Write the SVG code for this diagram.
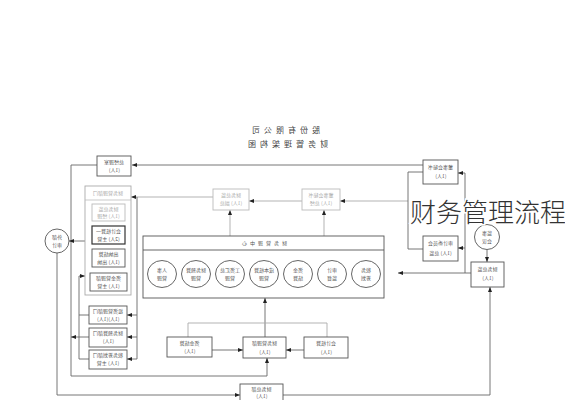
<svg xmlns="http://www.w3.org/2000/svg" width="565" height="400" viewBox="0 0 565 400">
<style>
.bx{fill:#fff;stroke:#555;stroke-width:0.9}
.bd{fill:#fff;stroke:#333;stroke-width:1.2}
.gb{fill:#fff;stroke:#bbb;stroke-width:0.9}
.el{fill:#fff;stroke:#555;stroke-width:0.9}
.ln{fill:none;stroke:#666;stroke-width:0.9}
.lg{fill:none;stroke:#aaa;stroke-width:0.9}
.ar{marker-end:url(#ah)}
text{font-family:"Noto Sans CJK SC","Noto Sans",sans-serif;text-anchor:middle}
.m{transform-box:fill-box;transform-origin:50% 50%;transform:scaleX(-1)}
.t{font-size:5px;fill:#555}
.tg{font-size:5px;fill:#aaa}
.ti{font-size:8px;fill:#444;letter-spacing:4px}
.big{font-size:26px;font-weight:300;fill:#333;text-anchor:start;stroke:#fff;stroke-width:3;paint-order:stroke}
</style>
<defs>
<marker id="ah" markerUnits="userSpaceOnUse" markerWidth="5" markerHeight="4" refX="5" refY="2" orient="auto">
<path d="M0,0 L5,2 L0,4 Z" fill="#222"/>
</marker>
</defs>
<rect width="565" height="400" fill="#fff"/>

<g id="title">
<text class="ti m" x="284" y="133">股份有限公司</text>
<text class="ti m" x="286" y="147">财务管理架构图</text>
</g>

<g id="connectors">
<polyline class="ln ar" points="97,165 71,165 71,376 267,376 267,358"/>
<polyline class="ln ar" points="423,165 132,165"/>
<polyline class="ln ar" points="57,253 57,395 240,395"/>
<polyline class="ln ar" points="283,395 490,395 490,287"/>
<polyline class="ln ar" points="85,241 69,241"/>
<polyline class="lg ar" points="213,197 131,197"/>
<polyline class="ln" points="137,197 137,359"/>
<polyline class="ln ar" points="137,315 127,315"/>
<polyline class="ln ar" points="137,337 127,337"/>
<polyline class="ln ar" points="137,359 127,359"/>
<polyline class="ln" points="89,315 79,315 79,359 89,359"/>
<polyline class="ln" points="79,337 89,337"/>
<polyline class="ln ar" points="79,315 79,276 85,276"/>
<polyline class="ln ar" points="79,337 71,337"/>
<polyline class="lg ar" points="302,201 249,201"/>
<polyline class="lg ar" points="408,201 340,201"/>
<polyline class="lg ar" points="230,236 230,210"/>
<polyline class="lg ar" points="324,236 324,210"/>
<polyline class="ln ar" points="265,337 265,298"/>
<polyline class="lg" points="188,337 188,323 327,323 327,337"/>
<polyline class="ln ar" points="212,350 243,350"/>
<polyline class="ln ar" points="304,350 286,350"/>
<polyline class="ln" points="423,172 408,172 408,249 423,249"/>
<polyline class="ln ar" points="471,273 398,273"/>
<polyline class="ln" points="465,273 465,173"/>
<polyline class="ln ar" points="465,173 458,173"/>
<polyline class="ln ar" points="465,248 458,248"/>
<polyline class="ln ar" points="487,250 487,262"/>
</g>

<g id="n-top-left">
<rect class="bx" x="97" y="156" width="34" height="20"/>
<text class="t m" x="114" y="164">总经理室</text>
<text class="t m" x="114" y="172">(1人)</text>
</g>

<g id="n-left-group">
<rect x="85" y="186" width="46" height="109" fill="none" stroke="#aaa" stroke-width="0.9"/>
<line x1="85" y1="200" x2="131" y2="200" stroke="#bbb" stroke-width="0.8"/>
<text class="tg m" x="108" y="195">财务管理部门</text>
</g>
<g id="n-left-1">
<rect class="gb" x="92" y="204" width="33" height="17"/>
<text class="tg m" x="108.5" y="211">财务总监</text>
<text class="tg m" x="108.5" y="218">(1人) 经理</text>
</g>
<g id="n-left-2">
<rect class="bd" x="92" y="226" width="33" height="18"/>
<text class="t m" x="108.5" y="233">会计核算一</text>
<text class="t m" x="108.5" y="241">(2人) 主管</text>
</g>
<g id="n-left-3">
<rect class="bx" x="92" y="249" width="33" height="18"/>
<text class="t m" x="108.5" y="256">出纳结算</text>
<text class="t m" x="108.5" y="264">(1人) 出纳</text>
</g>
<g id="n-left-4">
<rect class="bx" x="90" y="273" width="37" height="18"/>
<text class="t m" x="108.5" y="280">资金管理部</text>
<text class="t m" x="108.5" y="288">(1人) 主管</text>
</g>
<g id="n-left-5">
<rect class="bx" x="89" y="306" width="38" height="18"/>
<text class="t m" x="108" y="313">投资管理部门</text>
<text class="t m" x="108" y="321">(1人)(1人)</text>
</g>
<g id="n-left-6">
<rect class="bx" x="89" y="328" width="38" height="19"/>
<text class="t m" x="108" y="335">财务预算部门</text>
<text class="t m" x="108" y="343">(1人)</text>
</g>
<g id="n-left-7">
<rect class="bx" x="89" y="350" width="38" height="19"/>
<text class="t m" x="108" y="357">税务筹划部门</text>
<text class="t m" x="108" y="365">(1人) 主管</text>
</g>

<g id="n-left-circle">
<circle class="el" cx="57" cy="241" r="12"/>
<text class="t m" x="57" y="239">外部</text>
<text class="t m" x="57" y="247">审计</text>
</g>

<g id="n-gray-a">
<rect class="gb" x="213" y="189" width="36" height="21"/>
<text class="tg m" x="231" y="197">财务总监</text>
<text class="tg m" x="231" y="205">(1人) 副总</text>
</g>
<g id="n-gray-b">
<rect class="gb" x="302" y="189" width="38" height="21"/>
<text class="tg m" x="321" y="197">董事会秘书</text>
<text class="tg m" x="321" y="205">(1人) 总经</text>
</g>

<g id="n-main">
<rect class="bx" x="143" y="236" width="241" height="62"/>
<line x1="143" y1="250" x2="384" y2="250" stroke="#555" stroke-width="0.9"/>
<text class="t m" x="263" y="245" style="letter-spacing:3px">财务管理中心</text>
</g>
<g id="e1"><ellipse class="el" cx="162" cy="274" rx="14.5" ry="13.5"/><text class="t m" x="162" y="272">人事</text><text class="t m" x="162" y="280">管理</text></g>
<g id="e2"><ellipse class="el" cx="196" cy="274" rx="14.5" ry="13.5"/><text class="t m" x="196" y="272">财务预算</text><text class="t m" x="196" y="280">管理</text></g>
<g id="e3"><ellipse class="el" cx="230" cy="274" rx="14.5" ry="13.5"/><text class="t m" x="230" y="272">工资汇总</text><text class="t m" x="230" y="280">管理</text></g>
<g id="e4"><ellipse class="el" cx="264" cy="274" rx="14.5" ry="13.5"/><text class="t m" x="264" y="272">成本核算</text><text class="t m" x="264" y="280">管理</text></g>
<g id="e5"><ellipse class="el" cx="298" cy="274" rx="14.5" ry="13.5"/><text class="t m" x="298" y="272">资金</text><text class="t m" x="298" y="280">结算</text></g>
<g id="e6"><ellipse class="el" cx="332" cy="274" rx="14.5" ry="13.5"/><text class="t m" x="332" y="272">审计</text><text class="t m" x="332" y="280">监督</text></g>
<g id="e7"><ellipse class="el" cx="366" cy="274" rx="14.5" ry="13.5"/><text class="t m" x="366" y="272">税务</text><text class="t m" x="366" y="280">筹划</text></g>

<g id="n-bottom-left">
<rect class="bx" x="167" y="337" width="45" height="20"/>
<text class="t m" x="189.5" y="345">资金结算</text>
<text class="t m" x="189.5" y="353">(1人)</text>
</g>
<g id="n-bottom-center">
<rect class="bx" x="243" y="337" width="43" height="21"/>
<text class="t m" x="264.5" y="345">财务管理部</text>
<text class="t m" x="264.5" y="354">(1人)</text>
</g>
<g id="n-bottom-right">
<rect class="bx" x="304" y="337" width="44" height="21"/>
<text class="t m" x="326" y="345">会计核算</text>
<text class="t m" x="326" y="354">(1人)</text>
</g>
<g id="n-bottom">
<rect class="bx" x="240" y="384" width="43" height="20"/>
<text class="t m" x="261.5" y="391">财务总部</text>
<text class="t m" x="261.5" y="397.5">(1人)</text>
</g>

<g id="n-top-right">
<rect class="bx" x="423" y="160" width="35" height="24"/>
<text class="t m" x="440.5" y="169">董事会秘书</text>
<text class="t m" x="440.5" y="178">(1人)</text>
</g>
<g id="n-mid-right">
<rect class="bx" x="423" y="236" width="35" height="25"/>
<text class="t m" x="440.5" y="245">审计委员会</text>
<text class="t m" x="440.5" y="255">(1人) 总监</text>
</g>
<g id="n-right-circle">
<circle class="el" cx="487" cy="237" r="12.5"/>
<text class="t m" x="487" y="235">监事</text>
<text class="t m" x="487" y="243">会议</text>
</g>
<g id="n-right">
<rect class="bx" x="471" y="262" width="33" height="25"/>
<text class="t m" x="487.5" y="271">财务总监</text>
<text class="t m" x="487.5" y="280">(1人)</text>
</g>

<g id="overlay">
<text class="big" x="410" y="222">财务管理流程</text>
</g>
</svg>
